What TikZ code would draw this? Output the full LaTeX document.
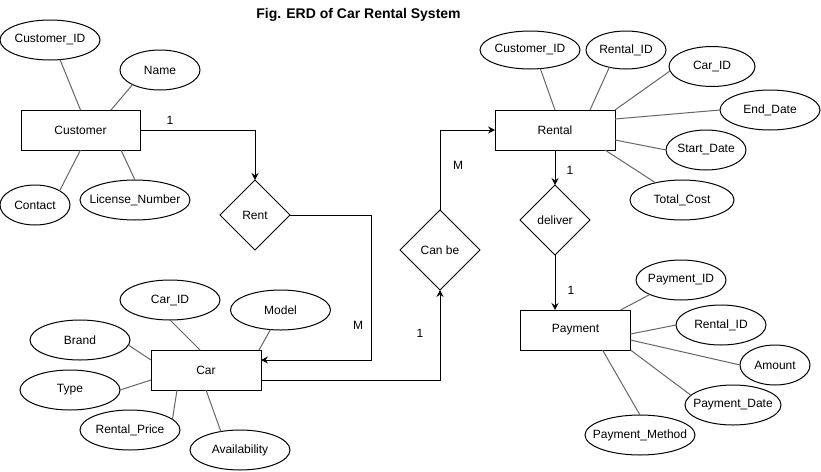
\documentclass[tikz,border=0pt]{standalone}
\usepackage{fontspec}
\setmainfont{Liberation Sans}
\usetikzlibrary{shapes.geometric,arrows.meta}
\definecolor{attrgray}{HTML}{666666}
\begin{document}
\begin{tikzpicture}[x=1pt,y=-1pt,
  every node/.style={font=\fontsize{12}{14}\selectfont, inner sep=0pt, outer sep=0pt},
  entity/.style={draw, line width=1pt, rectangle, minimum height=40pt},
  attr/.style={draw, line width=1pt, ellipse, minimum height=40pt, inner xsep=-25pt},
  rel/.style={draw, line width=1pt, diamond, minimum width=70pt, minimum height=70pt},
  attrline/.style={draw=attrgray, line width=1pt},
  conn/.style={draw, line width=1pt, -{Stealth[length=7pt,width=7pt,inset=2.5pt]}},
  card/.style={font=\fontsize{12}{14}\selectfont}]
\useasboundingbox (0,0) rectangle (821,471);
\fill[white] (0,0) rectangle (821,471);

\node[font=\bfseries\fontsize{14}{16}\selectfont] (title) at (358.5,15) {Fig. ERD of Car Rental System};

% Customer
\node[entity, minimum width=119pt] (cust) at (80.5,130) {Customer};
\node[attr, minimum width=100pt] (custid) at (50,40) {Customer\_ID};
\node[attr, minimum width=80pt] (name) at (160,70) {Name};
\node[attr, minimum width=70pt] (contact) at (35,205) {Contact};
\node[attr, minimum width=110pt] (license) at (135,200) {License\_Number};
\draw[attrline] (cust.north) -- (custid.-63);
\draw[attrline] ([xshift=-29pt]cust.north east) -- (name.208);
\draw[attrline] (cust.south) -- (contact.30);
\draw[attrline] ([xshift=-19pt]cust.south east) -- (license.90);

% Rent
\node[rel] (rent) at (255,215) {Rent};

% Car
\node[entity, minimum width=110pt] (car) at (206,370) {Car};
\node[attr, minimum width=100pt] (carid) at (170,300) {Car\_ID};
\node[attr, minimum width=100pt] (model) at (280.5,310) {Model};
\node[attr, minimum width=100pt] (brand) at (80,340) {Brand};
\node[attr, minimum width=100pt] (type) at (70,390) {Type};
\node[attr, minimum width=100pt] (rprice) at (130,430) {Rental\_Price};
\node[attr, minimum width=100pt] (avail) at (240,450) {Availability};
\draw[attrline] ([xshift=-6pt]car.north) -- (carid.-90);
\draw[attrline] ([xshift=-2pt]car.north east) -- (model.243);
\draw[attrline] ([yshift=10pt]car.west) -- (brand.-6);
\draw[attrline] ([yshift=-10pt]car.west) -- (type.0);
\draw[attrline] ([xshift=-29pt]car.south) -- (rprice.14);
\draw[attrline] (car.south) -- (avail.136);

% Can be
\node[rel, minimum width=80pt, minimum height=80pt] (canbe) at (440,250) {Can be};

% Rental
\node[entity, minimum width=120pt] (rental) at (555,130) {Rental};
\node[attr, minimum width=100pt, minimum height=38pt] (custid2) at (530,50) {Customer\_ID};
\node[attr, minimum width=80pt, minimum height=38pt] (rentid) at (626,50) {Rental\_ID};
\node[attr, minimum width=86pt] (carid2) at (712,66.5) {Car\_ID};
\node[attr, minimum width=100pt] (enddate) at (770,110) {End\_Date};
\node[attr, minimum width=80pt] (startdate) at (706,150) {Start\_Date};
\node[attr, minimum width=104pt] (totcost) at (682,200) {Total\_Cost};
\draw[attrline] (rental.north) -- (custid2.-61);
\draw[attrline] ([xshift=35pt]rental.north) -- (rentid.226);
\draw[attrline] (rental.north east) -- (carid2.186);
\draw[attrline] ([yshift=-9pt]rental.north east) -- (enddate.180);
\draw[attrline] ([yshift=10pt]rental.south east) -- (startdate.180);
\draw[attrline] ([xshift=-10pt]rental.south east) -- (totcost.147);

% deliver
\node[rel] (deliver) at (555,220) {deliver};

% Payment
\node[entity, minimum width=110pt] (pay) at (575.5,330) {Payment};
\node[attr, minimum width=90pt] (payid) at (681,280) {Payment\_ID};
\node[attr, minimum width=90pt] (rentid2) at (721,325) {Rental\_ID};
\node[attr, minimum width=70pt] (amount) at (775,365) {Amount};
\node[attr, minimum width=96pt] (paydate) at (733,405) {Payment\_Date};
\node[attr, minimum width=110pt] (paymeth) at (640,435) {Payment\_Method};
\draw[attrline] ([xshift=-10pt]pay.north east) -- (payid.205);
\draw[attrline] ([yshift=-4pt]pay.east) -- (rentid2.180);
\draw[attrline] ([yshift=-10pt]pay.east) -- (amount.180);
\draw[attrline] (pay.south east) -- (paydate.167);
\draw[attrline] ([xshift=27pt]pay.south) -- (paymeth.90);

% Relationship connectors
\draw[conn] (cust.east) -| (rent.north);
\node[card] (c1) at (170,120) {1};
\draw[conn] (rent.east) -- ++(81,0) |- ([yshift=10pt]car.east);
\node[card] (c2) at (358,325) {M};
\draw[conn] ([yshift=-10pt]car.east) -| (canbe.south);
\node[card] (c3) at (420,333) {1};
\draw[conn] (canbe.north) |- (rental.west);
\node[card] (c4) at (458,165) {M};
\draw[conn] (rental.south) -- (deliver.north);
\node[card] (c5) at (570,170) {1};
\draw[conn] (deliver.south) -- (deliver.south |- pay.north);
\node[card] (c6) at (571,290) {1};
\end{tikzpicture}
\end{document}
